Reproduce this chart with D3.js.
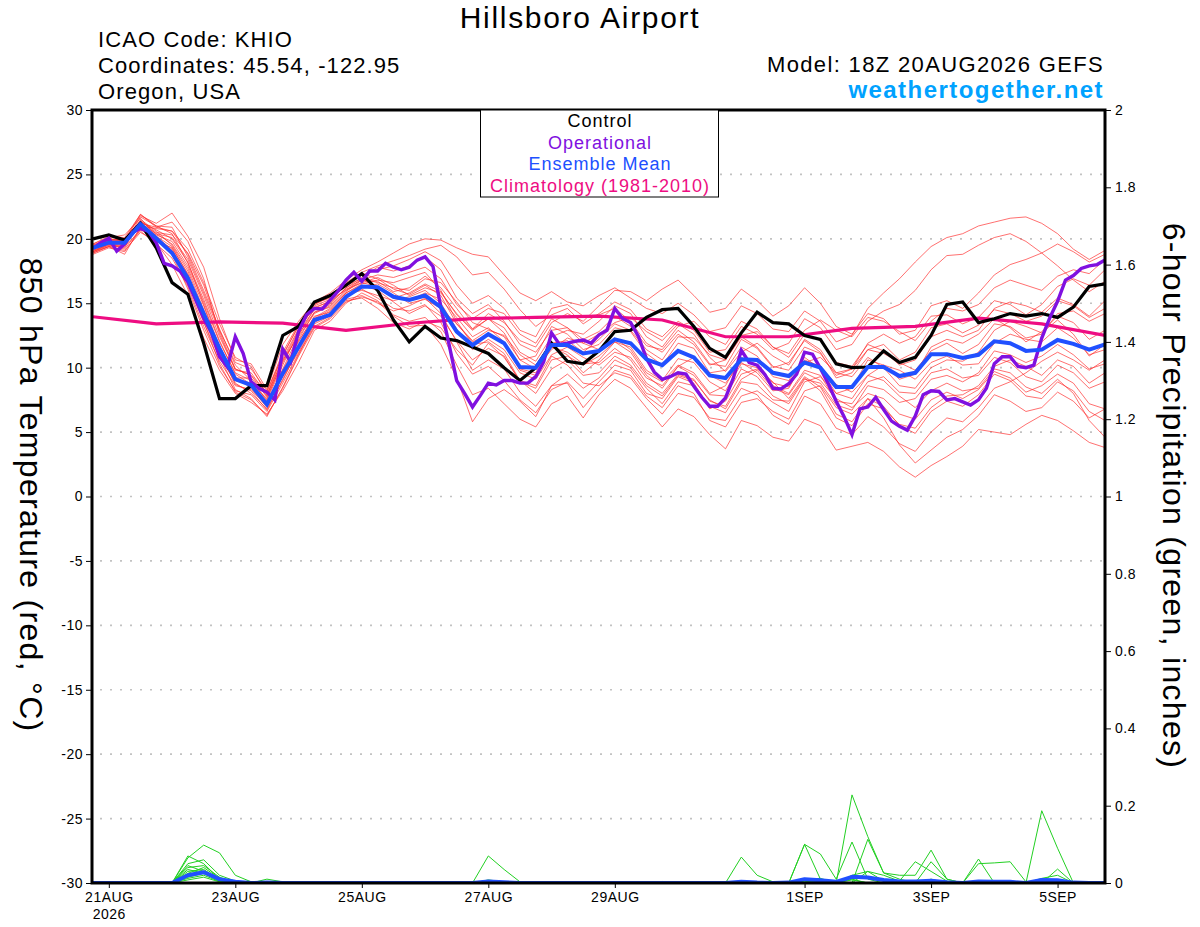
<!DOCTYPE html>
<html>
<head>
<meta charset="utf-8">
<title>Hillsboro Airport - GEFS 850 hPa temperature</title>
<script src="https://cdn.jsdelivr.net/npm/d3@7"></script>
<style>
  body { margin: 0; background: #fff; }
  svg text { font-family: "Liberation Sans", Arial, Helvetica, sans-serif; }
</style>
</head>
<body>
<svg id="chart" width="1200" height="927"></svg>
<script>
// model run 18Z 20AUG2026, 6-hourly steps out to 16 days
const startTime = Date.UTC(2026, 7, 20, 18);
const HOUR = 3600 * 1000;

const dateTicks = ['2026-08-21', '2026-08-23', '2026-08-25', '2026-08-27', '2026-08-29',
  '2026-09-01', '2026-09-03', '2026-09-05'];
const tempTicks = [-30, -25, -20, -15, -10, -5, 0, 5, 10, 15, 20, 25, 30];
const precipTicks = [0, 0.2, 0.4, 0.6, 0.8, 1, 1.2, 1.4, 1.6, 1.8, 2];

// control run (6-hourly)
const control = [
  20.0, 20.3, 19.9, 21.2, 19.3, 16.6, 15.7, 11.9, 7.6, 7.6, 8.6, 8.6, 12.5, 13.2, 15.1, 15.6, 16.4,
  17.3, 16.0, 13.7, 12.0, 13.2, 12.3, 12.1, 11.6, 11.1, 10.0, 9.0, 10.0, 11.9, 10.5, 10.3, 11.3,
  12.8, 12.9, 13.9, 14.5, 14.6, 13.2, 11.5, 10.8, 12.7, 14.3, 13.5, 13.4, 12.5, 12.2, 10.3, 10.0,
  10.05, 11.3, 10.4, 10.8, 12.5, 14.9, 15.1, 13.5, 13.8, 14.2, 14.0, 14.2, 13.9, 14.7, 16.3, 16.5
];

// operational GFS (3-hourly)
const operational = [
  19.26, 19.7, 20.05, 19.05, 19.6, 20.5, 20.8, 20.6, 19.7, 18.1, 17.9, 17.5, 16.65, 15.25, 13.85, 12.7,
  10.85, 10.05, 12.4, 11.1, 8.9, 8.4, 8.1, 7.5, 11.45, 10.45, 12.8, 14.1, 14.6, 14.55, 15.25, 15.95,
  16.8, 17.4, 16.7, 17.5, 17.5, 18.1, 17.8, 17.6, 17.8, 18.35, 18.6, 17.85, 14.7, 11.9, 9.0, 8.0,
  6.95, 7.85, 8.8, 8.65, 9.0, 9.0, 8.8, 8.8, 9.3, 10.45, 12.7, 11.8, 11.9, 12.05, 12.15, 11.9,
  12.55, 12.9, 14.6, 13.8, 13.5, 12.4, 10.7, 9.65, 9.1, 9.3, 9.6, 9.5, 8.55, 7.7, 7.0, 7.0,
  7.65, 9.2, 11.35, 10.4, 10.2, 9.45, 8.4, 8.35, 8.75, 9.5, 11.2, 11.05, 9.95, 8.75, 7.4, 6.2,
  4.8, 6.8, 6.95, 7.7, 6.75, 5.85, 5.45, 5.15, 6.25, 7.9, 8.2, 8.15, 7.5, 7.6, 7.35, 7.1,
  7.5, 8.4, 10.3, 10.85, 10.85, 10.1, 10.0, 10.2, 12.3, 13.85, 15.15, 16.8, 17.15, 17.7, 17.9, 18.0,
  18.35
];

// ensemble mean (6-hourly)
const ensMean = [
  19.3, 19.7, 19.7, 21.15, 20.05, 18.9, 16.95, 14.2, 11.5, 9.1, 8.65, 7.15, 9.55, 11.6, 13.7, 14.1, 15.5,
  16.3, 16.25, 15.5, 15.25, 15.6, 14.7, 12.8, 11.75, 12.6, 11.9, 10.05, 10.0, 11.75, 11.75, 11.1, 11.3,
  12.2, 11.9, 10.65, 10.2, 11.3, 10.8, 9.4, 9.2, 10.65, 10.6, 9.6, 9.35, 10.4, 10.0, 8.5, 8.5,
  10.05, 10.05, 9.35, 9.6, 11.05, 11.05, 10.75, 11.0, 12.05, 11.9, 11.3, 11.4, 12.15, 11.85, 11.4, 11.8
];

// climatology 1981-2010 (daily, at 18Z)
const climatology = [13.95, 13.4, 13.55, 13.45, 12.9, 13.45, 13.8, 13.9, 14.0, 13.7, 12.4, 12.4,
  13.05, 13.2, 13.85, 13.4, 12.5];

// ensemble members (6-hourly)
const memberTemps = [
  [19.4,19.8,19.9,21.8,21.2,22.0,20.2,17.8,13.8,10.6,10.3,8.3,11.8,13.6,15.1,15.8,16.8,
   17.6,18.2,18.9,19.6,20.0,19.9,19.3,18.8,18.6,17.2,15.8,15.2,15.9,15.1,14.8,15.6,
   16.2,15.4,14.6,14.2,15.0,14.1,12.8,13.1,14.8,14.2,13.0,12.8,14.4,13.6,12.0,12.5,
   14.6,15.8,16.9,18.2,19.4,20.1,20.4,21.0,21.3,21.6,21.7,21.2,20.4,19.2,18.4,19.1],
  [18.9,19.4,18.8,20.9,19.7,18.0,15.6,12.3,9.8,8.0,7.3,6.4,8.2,10.4,12.9,13.6,15.0,
   15.8,15.2,14.1,13.6,13.9,12.8,10.2,7.9,8.4,7.2,6.0,5.4,7.2,7.8,6.1,7.9,
   9.1,8.4,6.9,5.4,6.8,6.2,4.8,3.7,5.9,5.5,4.6,4.3,6.0,5.5,3.6,3.9,
   4.2,3.5,2.3,1.5,2.4,3.1,3.9,5.2,5.0,4.8,5.6,6.3,5.9,5.1,4.2,3.8],
  [19.2,19.9,19.8,21.0,20.8,20.6,18.8,16.0,13.0,10.2,9.0,7.5,10.2,12.8,14.5,15.0,16.2,
   17.0,17.8,17.5,17.9,18.6,17.6,15.4,14.2,14.9,13.6,11.8,11.2,12.9,13.1,12.2,12.8,
   14.0,13.2,11.7,11.4,12.9,12.0,10.3,10.1,12.2,11.5,10.0,10.4,12.1,11.2,9.2,9.6,
   11.4,11.8,10.6,11.2,13.1,13.4,12.7,13.3,14.5,14.2,13.6,14.0,15.2,14.8,13.9,14.6],
  [19.0,19.6,19.3,21.5,20.6,19.5,17.5,14.5,11.0,8.8,8.0,6.8,9.0,11.5,13.8,14.5,15.8,
   16.4,16.0,15.1,14.2,14.8,14.0,12.1,10.6,11.5,10.9,8.9,8.4,10.6,10.9,10.2,10.9,
   12.0,11.6,9.8,9.0,10.7,10.4,8.9,8.2,10.3,10.0,8.6,8.0,9.8,9.4,7.4,7.2,
   8.9,9.3,8.1,8.0,9.6,9.9,9.2,9.4,10.8,10.4,9.3,8.9,10.2,9.6,8.4,8.9],
  [19.3,19.7,19.6,21.2,20.9,21.3,19.8,16.9,12.6,9.8,9.6,7.9,11.0,13.2,14.9,15.6,16.6,
   17.4,17.9,18.3,18.7,19.2,19.5,18.6,17.2,17.4,16.1,14.5,13.2,14.1,14.6,13.4,14.2,
   15.1,14.5,13.0,12.4,13.6,12.9,11.2,11.4,13.2,12.6,11.4,11.9,13.8,13.1,11.4,11.8,
   13.6,14.4,14.9,16.0,17.6,18.7,18.8,19.5,20.1,20.4,19.8,18.9,17.9,16.8,15.9,16.7],
  [19.1,19.5,19.4,20.6,19.6,18.5,16.3,13.2,10.5,8.6,8.3,7.0,9.6,12.0,14.0,14.3,15.6,
   16.2,16.5,15.8,15.0,15.3,14.6,13.4,12.0,12.6,11.8,9.8,9.4,11.6,11.2,10.3,10.4,
   11.5,10.6,8.8,8.0,9.5,9.1,7.4,7.0,9.1,9.8,8.4,7.9,9.6,9.0,7.6,6.9,
   8.0,7.6,6.4,6.0,7.5,8.1,7.6,8.3,9.7,9.2,8.1,8.6,9.5,8.8,7.2,6.8],
  [19.5,20.0,19.9,21.9,21.0,20.4,18.1,15.3,12.1,9.5,8.7,7.2,9.9,12.5,14.6,15.2,16.4,
   16.9,16.6,16.2,16.0,16.9,16.6,15.1,13.5,13.0,12.4,10.6,10.9,13.2,12.6,11.4,11.8,
   13.1,12.8,11.1,10.2,11.9,11.5,9.6,9.8,11.6,10.9,9.3,9.0,10.8,9.9,8.0,8.4,
   10.6,10.2,9.1,9.5,11.6,12.2,11.9,12.6,13.8,13.1,12.0,12.8,14.0,13.5,12.2,12.9],
  [18.8,19.3,19.0,20.7,20.1,19.2,17.0,13.8,10.9,8.3,7.6,6.2,8.5,11.0,13.4,14.0,15.3,
   15.6,15.0,14.4,14.8,15.4,14.2,12.0,9.8,10.6,9.9,8.1,7.0,8.6,9.5,8.4,9.2,
   10.6,10.0,8.4,7.2,8.9,8.6,7.0,6.5,8.4,7.9,6.3,5.6,7.8,7.2,5.3,4.8,
   6.2,5.4,4.1,3.5,5.0,6.1,5.8,6.9,8.4,8.9,9.6,10.5,11.2,10.6,9.8,10.6],
  [19.6,20.1,20.3,21.6,20.2,19.0,16.6,13.5,10.8,9.0,8.8,7.6,10.5,12.9,14.8,15.3,16.0,
   16.6,17.0,16.4,15.6,16.2,15.8,14.2,13.0,14.2,13.5,12.1,11.6,13.5,14.2,13.6,14.8,
   16.0,15.9,15.2,16.1,16.8,15.6,14.3,14.6,16.1,15.2,14.0,14.8,16.2,15.0,13.2,12.6,
   14.2,13.8,12.6,12.9,14.8,15.2,14.6,15.8,17.2,18.0,18.4,18.9,19.6,19.0,18.2,18.8],
  [19.2,19.8,19.5,21.1,20.3,19.8,17.9,15.1,12.0,9.6,9.0,7.4,9.3,11.2,13.5,14.2,15.5,
   16.1,15.4,14.6,14.4,14.9,13.5,11.1,9.5,10.1,9.0,7.5,6.5,8.3,8.9,7.6,8.9,
   10.2,9.8,8.0,7.6,9.3,8.8,6.8,7.4,9.5,9.9,8.9,7.6,9.3,8.5,6.4,5.8,
   7.6,7.0,5.5,4.9,6.6,7.4,7.0,7.9,9.5,9.0,7.8,7.6,8.9,8.2,6.6,5.9],
  [19.0,19.5,19.7,21.3,20.7,20.0,18.2,14.9,11.6,9.3,8.4,6.9,9.4,12.2,14.3,14.7,15.9,
   16.8,17.2,17.0,17.4,17.8,16.9,14.9,13.8,14.6,14.2,12.6,11.9,13.8,13.1,11.9,11.4,
   12.3,11.4,9.6,8.9,10.2,9.6,8.0,8.6,10.8,10.2,8.8,8.5,10.4,10.8,9.6,9.9,
   11.9,12.6,11.9,12.4,14.0,14.1,13.4,13.9,15.2,14.9,14.1,14.9,16.3,16.9,16.4,17.6],
  [19.3,19.6,19.2,20.8,19.9,18.8,16.1,12.9,10.1,8.2,7.9,6.6,8.8,11.1,13.2,13.9,15.2,
   15.4,14.6,13.5,13.0,13.6,13.1,11.4,10.2,11.9,10.8,9.0,8.6,10.9,10.2,8.8,8.6,
   9.6,9.2,7.6,6.4,8.0,7.7,6.1,5.9,7.8,8.2,7.3,6.6,8.9,9.3,8.0,7.6,
   9.4,9.0,7.8,6.9,8.2,8.8,8.2,8.4,9.9,9.6,8.5,8.0,9.1,8.0,5.9,4.6],
  [19.4,19.9,20.0,21.4,20.4,19.6,17.7,14.8,11.4,9.2,9.2,7.8,10.7,13.0,14.7,15.1,16.1,
   16.6,16.3,15.6,15.2,15.8,15.3,13.9,12.4,13.1,12.0,9.9,9.6,11.9,12.1,11.2,12.2,
   13.4,12.9,11.4,10.6,12.4,12.3,11.0,10.6,12.5,12.8,11.6,10.8,12.6,12.1,10.4,10.1,
   11.8,11.3,10.2,10.6,12.4,12.9,12.4,12.9,14.6,15.1,14.8,14.3,15.4,14.9,14.0,15.2],
  [18.9,19.4,19.5,21.0,20.0,19.1,16.9,13.6,10.3,8.1,7.5,6.3,8.4,10.9,13.1,13.8,15.1,
   15.5,15.1,14.0,13.2,13.3,11.8,9.2,5.8,7.6,8.3,7.4,6.2,8.6,8.8,6.9,8.3,
   9.8,9.4,7.8,6.9,8.6,8.0,5.9,5.4,7.3,7.6,6.6,6.0,8.2,8.6,6.9,6.4,
   7.6,6.1,4.0,2.6,3.6,4.6,5.2,6.3,7.9,7.4,6.6,6.9,8.1,7.4,6.1,6.8],
  [19.2,19.7,19.6,21.7,21.0,20.9,18.6,15.8,12.8,9.9,9.4,7.7,10.4,12.6,14.3,14.9,16.2,
   16.8,16.7,15.9,16.2,17.1,16.2,14.6,13.0,13.8,13.1,11.2,10.5,12.4,12.9,12.6,13.6,
   14.8,14.2,12.4,11.6,13.2,13.6,12.4,11.8,13.6,13.0,11.6,11.1,12.9,13.7,12.9,12.4,
   13.9,13.6,12.8,12.1,13.6,14.6,14.4,14.9,16.2,16.8,16.4,16.0,17.1,17.6,17.3,18.4],
  [19.5,20.0,19.8,21.2,20.4,20.1,18.4,15.6,12.4,9.9,9.4,8.1,11.2,13.4,14.9,15.5,16.5,
   17.2,17.6,17.9,18.4,19.0,18.3,16.4,15.0,15.6,14.6,12.9,12.4,14.6,14.9,14.0,14.1,
   14.6,13.6,11.9,11.2,12.6,11.8,10.2,10.6,12.4,11.6,10.1,9.8,11.6,11.1,9.4,9.9,
   11.4,11.1,10.4,9.8,11.3,11.9,11.1,11.8,13.4,13.2,12.3,12.6,14.2,14.4,13.6,14.2],
  [19.0,19.4,19.1,20.5,19.8,19.3,17.3,14.1,11.2,8.7,8.2,6.7,9.1,11.4,13.6,14.4,15.7,
   16.0,15.6,15.2,15.5,16.0,15.0,13.0,11.4,12.2,11.4,9.6,9.1,11.0,11.6,10.8,10.2,
   11.2,10.8,9.2,8.6,10.1,9.4,7.9,7.8,9.9,9.3,7.8,7.2,9.1,8.8,7.1,6.7,
   8.6,8.3,7.3,7.6,9.1,9.4,8.9,9.6,11.3,11.0,10.4,10.9,11.8,11.0,9.9,10.3],
  [19.3,19.9,19.6,21.4,20.5,20.3,18.9,16.4,12.9,10.4,9.9,8.2,10.9,13.3,15.0,15.4,16.3,
   17.3,16.9,16.1,15.7,16.4,15.6,13.4,12.1,12.9,12.5,11.0,10.2,11.6,11.0,9.6,10.6,
   12.0,11.2,9.4,8.4,10.1,10.8,9.4,8.8,10.4,9.6,8.2,8.4,10.6,10.1,8.7,8.1,
   9.4,10.2,9.8,9.1,10.4,10.9,10.2,10.3,11.9,12.6,12.2,12.0,13.1,12.3,11.0,11.4],
  [19.1,19.6,19.5,21.1,20.2,19.4,17.2,14.0,11.1,9.0,8.6,7.3,9.8,12.1,13.9,14.6,15.8,
   16.5,16.8,16.6,17.0,17.4,16.0,13.6,11.8,12.0,11.1,9.0,8.0,9.9,10.6,9.4,9.6,
   10.9,10.2,8.6,7.8,9.4,9.0,7.5,6.8,8.9,8.7,7.5,7.4,9.2,8.2,6.1,5.5,
   7.2,6.8,5.6,5.3,6.9,7.8,7.9,8.6,10.1,10.6,10.1,9.4,10.6,10.1,8.8,9.6],
  [19.6,20.2,20.1,21.9,20.9,20.6,19.2,16.6,13.4,10.8,10.1,7.9,10.6,12.4,14.2,14.8,16.0,
   16.9,16.2,15.4,15.8,16.5,15.9,14.1,12.9,13.8,12.7,10.6,9.9,11.4,12.3,11.9,12.6,
   13.5,13.9,12.8,12.1,13.4,12.6,10.8,9.7,11.2,11.9,10.9,10.2,12.2,11.4,9.6,9.3,
   10.8,10.0,8.6,8.4,10.0,10.6,10.5,11.2,12.9,13.6,13.2,12.7,13.7,12.6,10.9,11.8]
];

// 6-hour precipitation, members (inches)
const memberPrecip = [
  [0,0,0,0,0,0,.07,.05,.01,.003,0,0,0, 0,0,0,0,0,0,0,0,0,0,0,0,.07,
   .035,.003,0,0,0,0,0,0,0,0,0,0,0, 0,0,0,0,0,0,0,0,0,.228,.12,.026,.01,
   0,0,0,0,0,0,0,0,.187,.09,0,0,0],
  [0,0,0,0,0,0,.065,.098,.078,.02,.003,0,0, 0,0,0,0,0,0,0,0,0,0,0,0,0,
   0,0,0,0,0,0,0,0,0,0,0,0,0, 0,0,0,0,0,0,.1,.075,.01,.106,.01,0,0,
   0,.055,.01,0,0,0,0,0,0,0,0,0,0],
  [0,0,0,0,0,0,.05,.06,.02,.005,0,0,0, 0,0,0,0,0,0,0,0,0,0,0,0,.008,
   .003,0,0,0,0,0,0,0,0,0,0,0,.003, 0,0,.067,.02,.003,0,.1,.01,0,0,.113,.026,.02,
   .02,.085,.01,0,0,0,0,0,0,0,0,0,0],
  [0,0,0,0,0,0,.045,.03,.01,0,0,0,0, 0,0,0,0,0,0,0,0,0,0,0,0,0,
   0,0,0,0,0,0,0,0,0,0,0,0,0, 0,0,0,0,0,0,0,0,0,0,.03,.02,.005,
   .055,.03,.005,0,.062,0,0,0,0,0,0,0,0],
  [0,0,0,0,0,0,.04,.045,.015,0,0,0,0, 0,0,0,0,0,0,0,0,0,0,0,0,0,
   0,0,0,0,0,0,0,0,0,0,.004,0,0, 0,0,.005,0,0,0,.005,0,0,.02,.03,.005,0,
   0,0,0,0,.05,.052,.055,.003,0,.036,0,0,0],
  [0,0,0,0,0,0,.03,.035,.008,0,0,.01,.003, 0,0,0,0,0,0,0,0,0,0,0,0,0,
   0,0,0,0,0,0,0,0,0,0,0,0,0, 0,0,0,0,0,0,.01,.012,0,.008,0,0,0,
   0,.01,0,0,.006,0,0,0,.012,.02,0,0,.003],
  [0,0,0,0,0,0,.025,.04,.012,.002,0,0,0, 0,0,0,0,0,0,0,0,0,0,0,0,0,
   0,0,0,0,0,0,0,0,0,0,0,0,0, 0,0,0,0,0,0,.005,0,0,0,0,0,0,
   0,0,0,0,0,0,0,0,.01,0,0,0,0],
  [0,0,0,0,0,0,.02,.03,.01,0,0,0,0, 0,0,0,0,0,0,0,0,0,0,0,0,0,
   0,0,0,0,0,0,0,.002,0,0,0,0,0, 0,0,0,0,0,0,0,0,0,.01,0,0,0,
   0,0,0,0,0,0,0,0,0,0,0,0,0],
  [0,0,0,0,0,0,.015,.025,.006,0,0,0,0, 0,0,0,0,0,0,0,0,0,0,0,0,0,
   0,0,0,0,0,0,0,0,0,0,0,0,0, 0,0,0,0,0,0,0,0,0,0,0,0,0,
   0,0,0,0,0,0,0,0,0,0,0,0,0],
  [0,0,0,0,0,0,.012,.02,.004,0,0,0,0, 0,0,0,0,0,0,0,0,0,0,0,0,0,
   0,0,0,0,0,0,0,0,0,0,0,0,0, 0,0,0,0,0,0,0,.005,0,0,0,0,0,
   0,0,0,0,0,0,0,0,0,0,0,0,0],
  [0,0,0,0,0,0,.035,.025,.005,0,0,0,0, 0,0,0,0,0,0,0,0,0,0,0,0,0,
   0,0,0,0,0,0,0,0,0,0,0,0,0, 0,0,0,0,0,0,0,0,0,0,0,0,0,
   0,0,0,0,0,0,0,0,0,0,0,0,0],
  [0,0,0,0,0,0,.008,.015,.003,0,0,0,0, 0,0,0,0,0,0,0,0,0,0,0,0,0,
   0,0,0,0,0,0,0,0,0,0,0,0,0, 0,0,0,0,0,0,0,0,0,0,0,0,0,
   0,0,0,0,0,0,0,0,0,0,0,0,0]
];

// 6-hour precipitation, ensemble mean
const precipMean = [
  0,0,0,0,0,0,.02,.028,.01,.003,0,.001,0, 0,0,0,0,0,0,0,0,0,0,0,0,.004,
  .002,0,0,0,0,0,0,0,0,0,0,0,0, 0,0,.003,.001,0,.001,.01,.007,.003,.016,.014,.008,.004,
  .004,.006,.002,0,.004,.003,.003,0,.008,.007,.001,0,0
];

const colors = {
  member: '#ff2a2a', precip: '#22d022', control: '#000000',
  operational: '#8010e0', mean: '#2050ff', clim: '#ee0d82', site: '#00a2ff'
};

const svg = d3.select('#chart');
const plotLeft = 92, plotRight = 1105, plotTop = 110, plotBottom = 883;

const time6 = control.map((_, i) => new Date(startTime + i * 6 * HOUR));
const time3 = operational.map((_, i) => new Date(startTime + i * 3 * HOUR));
const time24 = climatology.map((_, i) => new Date(startTime + i * 24 * HOUR));

const x = d3.scaleUtc()
  .domain([new Date(startTime), new Date(startTime + 16 * 24 * HOUR)])
  .range([plotLeft + 1, plotRight]);
const yT = d3.scaleLinear().domain([-30, 30]).range([plotBottom, plotTop]);
const yP = d3.scaleLinear().domain([0, 2]).range([plotBottom, plotTop]);

svg.append('clipPath').attr('id', 'plot-clip')
  .append('rect').attr('x', plotLeft).attr('y', plotTop)
  .attr('width', plotRight - plotLeft).attr('height', plotBottom - plotTop);

// dotted grid on temperature ticks
svg.append('g').selectAll('line')
  .data(tempTicks.filter(t => t > -30 && t < 30))
  .join('line')
  .attr('x1', plotLeft + 8).attr('x2', plotRight)
  .attr('y1', d => yT(d)).attr('y2', d => yT(d))
  .attr('stroke', '#c2c2c2').attr('stroke-width', 1.6)
  .attr('stroke-dasharray', '2,8');

const plot = svg.append('g').attr('clip-path', 'url(#plot-clip)');

const line6 = d3.line().x((d, i) => x(time6[i])).y(d => yT(d));
const precipLine = d3.line().x((d, i) => x(time6[i])).y(d => yP(d));

// precipitation members and mean
plot.append('g').selectAll('path')
  .data(memberPrecip)
  .join('path')
  .attr('d', precipLine)
  .attr('fill', 'none').attr('stroke', colors.precip).attr('stroke-width', 1);

plot.append('path')
  .attr('d', precipLine(precipMean))
  .attr('fill', 'none').attr('stroke', colors.mean).attr('stroke-width', 4)
  .attr('stroke-linejoin', 'round');

// ensemble members
plot.append('g').selectAll('path')
  .data(memberTemps)
  .join('path')
  .attr('d', line6)
  .attr('fill', 'none').attr('stroke', colors.member)
  .attr('stroke-width', 0.9).attr('stroke-opacity', 0.75);

// climatology
plot.append('path')
  .attr('d', d3.line().x((d, i) => x(time24[i])).y(d => yT(d))(climatology))
  .attr('fill', 'none').attr('stroke', colors.clim).attr('stroke-width', 3.2);

// control
plot.append('path')
  .attr('d', line6(control))
  .attr('fill', 'none').attr('stroke', colors.control).attr('stroke-width', 3.2);

// operational
plot.append('path')
  .attr('d', d3.line().x((d, i) => x(time3[i])).y(d => yT(d))(operational))
  .attr('fill', 'none').attr('stroke', colors.operational).attr('stroke-width', 3.4);

// ensemble mean
plot.append('path')
  .attr('d', line6(ensMean))
  .attr('fill', 'none').attr('stroke', colors.mean).attr('stroke-width', 4);

// frame
svg.append('rect')
  .attr('x', plotLeft).attr('y', plotTop)
  .attr('width', plotRight - plotLeft).attr('height', plotBottom - plotTop)
  .attr('fill', 'none').attr('stroke', '#000').attr('stroke-width', 3);

// axes
function styleAxis(g) {
  g.select('.domain').remove();
  g.selectAll('text').attr('font-size', 14).attr('fill', '#000')
    .attr('font-family', '"Liberation Sans", Arial, sans-serif')
    .style('letter-spacing', '0.5px');
  g.selectAll('line').attr('stroke', '#000').attr('stroke-width', 1);
}

svg.append('g')
  .attr('transform', `translate(${plotLeft},0)`)
  .call(d3.axisLeft(yT).tickValues(tempTicks).tickSize(6).tickPadding(3).tickFormat(d => String(d)))
  .call(styleAxis);

svg.append('g')
  .attr('transform', `translate(${plotRight},0)`)
  .call(d3.axisRight(yP).tickValues(precipTicks).tickSize(6).tickPadding(4).tickFormat(d => String(d)))
  .call(styleAxis);

const tickDates = dateTicks.map(s => new Date(s + 'T00:00:00Z'));
const xAxis = svg.append('g')
  .attr('transform', `translate(0,${plotBottom})`)
  .call(d3.axisBottom(x).tickValues(tickDates).tickSize(5).tickPadding(4)
    .tickFormat(d => d3.utcFormat('%-d%b')(d).toUpperCase()))
  .call(styleAxis);

xAxis.select('.tick text')
  .clone()
  .attr('dy', null).attr('y', 36)
  .text('2026');

// header text
svg.append('text')
  .attr('x', 580).attr('y', 28).attr('text-anchor', 'middle')
  .attr('font-size', 30).style('letter-spacing', '1.7px')
  .text('Hillsboro Airport');

const infoLines = ['ICAO Code: KHIO', 'Coordinates: 45.54, -122.95', 'Oregon, USA'];
svg.append('g').selectAll('text')
  .data(infoLines)
  .join('text')
  .attr('x', 98).attr('y', (d, i) => 47 + i * 26)
  .attr('font-size', 22).style('letter-spacing', '1.1px')
  .text(d => d);

svg.append('text')
  .attr('x', 1104).attr('y', 72).attr('text-anchor', 'end')
  .attr('font-size', 22).style('letter-spacing', '1.35px')
  .text('Model: 18Z 20AUG2026 GEFS');

svg.append('text')
  .attr('x', 1104).attr('y', 98).attr('text-anchor', 'end')
  .attr('font-size', 24).attr('font-weight', 'bold').attr('fill', colors.site)
  .style('letter-spacing', '1.45px')
  .text('weathertogether.net');

// legend
const legendItems = [
  { label: 'Control', color: colors.control },
  { label: 'Operational', color: colors.operational },
  { label: 'Ensemble Mean', color: colors.mean },
  { label: 'Climatology (1981-2010)', color: colors.clim }
];
svg.append('rect')
  .attr('x', 480.5).attr('y', plotTop).attr('width', 238).attr('height', 87)
  .attr('fill', '#fff').attr('stroke', '#000').attr('stroke-width', 1);
svg.append('g').selectAll('text')
  .data(legendItems)
  .join('text')
  .attr('x', 600).attr('y', (d, i) => 127 + i * 21.5)
  .attr('text-anchor', 'middle').attr('font-size', 18)
  .style('letter-spacing', '1px')
  .attr('fill', d => d.color)
  .text(d => d.label);

// axis titles
svg.append('text')
  .attr('transform', 'translate(20,495) rotate(90)')
  .attr('text-anchor', 'middle').attr('font-size', 32)
  .style('letter-spacing', '1.3px')
  .text('850 hPa Temperature (red, °C)');

svg.append('text')
  .attr('transform', 'translate(1163,496) rotate(90)')
  .attr('text-anchor', 'middle').attr('font-size', 32)
  .style('letter-spacing', '1.3px')
  .text('6-hour Precipitation (green, inches)');
</script>
</body>
</html>
